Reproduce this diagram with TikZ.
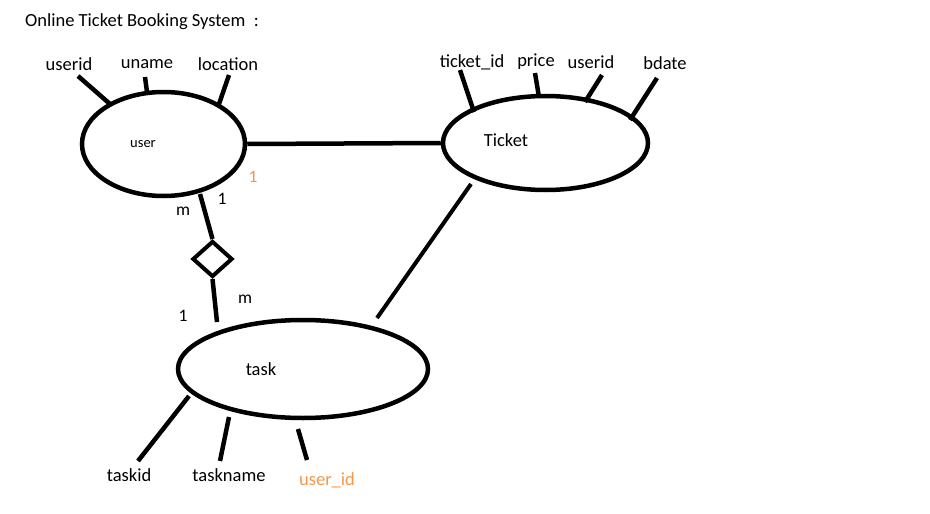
\documentclass[tikz,border=0pt]{standalone}
\usepackage{fontspec}
\setmainfont{Carlito}
\usetikzlibrary{shapes.geometric}
\definecolor{attrorange}{RGB}{247,150,70}
\begin{document}
\begin{tikzpicture}[x=1pt,y=-1pt,
  ent/.style={draw,ellipse,line width=4.5pt,inner sep=0pt},
  lnk/.style={line width=4.5pt},
  lbl/.style={font=\fontsize{18.5}{22}\selectfont,inner sep=0pt},
  card/.style={font=\fontsize{17.5}{20}\selectfont,inner sep=0pt}]
\useasboundingbox (0,0) rectangle (930,514);
% title
\node[lbl,anchor=west] (title) at (25,22) {Online Ticket Booking System\ \ :};
% entities
\node[ent,minimum width=163pt,minimum height=104pt] (user) at (163.5,144) {};
\node[lbl,font=\fontsize{14.5}{17}\selectfont] (userlbl) at (143,144) {user};
\node[ent,minimum width=205pt,minimum height=94pt] (ticket) at (545.5,143) {};
\node[lbl] (ticketlbl) at (506,140) {Ticket};
\node[ent,minimum width=250pt,minimum height=98pt] (task) at (303,369) {};
\node[lbl] (tasklbl) at (261,369) {task};
% relationship diamond
\node[draw,diamond,line width=4pt,minimum width=40pt,minimum height=36pt,inner sep=0pt] (rel) at (212.5,259) {};
% user attributes
\node[lbl] (a1) at (69,64) {userid};
\node[lbl] (a2) at (147,64) {uname};
\node[lbl] (a3) at (228,64) {location};
\coordinate (a1e) at (78,76);  \coordinate (a1u) at (110,104);
\coordinate (a2e) at (145,77); \coordinate (a2u) at (147,92);
\coordinate (a3e) at (229,75); \coordinate (a3u) at (219,104);
\draw[lnk] (a1e) -- (a1u);
\draw[lnk] (a2e) -- (a2u);
\draw[lnk] (a3e) -- (a3u);
% ticket attributes
\node[lbl] (b1) at (472,62) {ticket\_id};
\node[lbl] (b2) at (536,62) {price};
\node[lbl] (b3) at (591,62) {userid};
\node[lbl] (b4) at (665,63) {bdate};
\coordinate (b1e) at (460,70);  \coordinate (b1t) at (474,112);
\coordinate (b2e) at (535,73);  \coordinate (b2t) at (539,97);
\coordinate (b3e) at (602,75);  \coordinate (b3t) at (585,102);
\coordinate (b4e) at (657,78);  \coordinate (b4t) at (630,120);
\draw[lnk] (b1e) -- (b1t);
\draw[lnk] (b2e) -- (b2t);
\draw[lnk] (b3e) -- (b3t);
\draw[lnk] (b4e) -- (b4t);
% task attributes
\node[lbl] (c1) at (129,475) {taskid};
\node[lbl] (c2) at (229,475) {taskname};
\node[lbl,text=attrorange] (c3) at (327,480) {user\_id};
\coordinate (c1e) at (138,461); \coordinate (c1t) at (189,396);
\coordinate (c2e) at (220,461); \coordinate (c2t) at (229,417);
\coordinate (c3e) at (307,460); \coordinate (c3t) at (298,429);
\draw[lnk] (c1e) -- (c1t);
\draw[lnk] (c2e) -- (c2t);
\draw[lnk] (c3e) -- (c3t);
% relationships
\draw[lnk] (user.east) -- (ticket.west);
\coordinate (ud) at (200,194);
\coordinate (td) at (217,322);
\draw[lnk] (ud) -- (rel.north);
\draw[lnk] (rel.south) -- (td);
\coordinate (tt) at (471,184);
\coordinate (tk) at (377,318);
\draw[lnk,line width=4pt] (tt) -- (tk);
% cardinalities
\node[card,text=attrorange] (k0) at (253,177) {1};
\node[card] (k1) at (183,211) {m};
\node[card] (k2) at (222,199) {1};
\node[card] (k3) at (245,299) {m};
\node[card] (k4) at (183,316) {1};
\end{tikzpicture}
\end{document}
